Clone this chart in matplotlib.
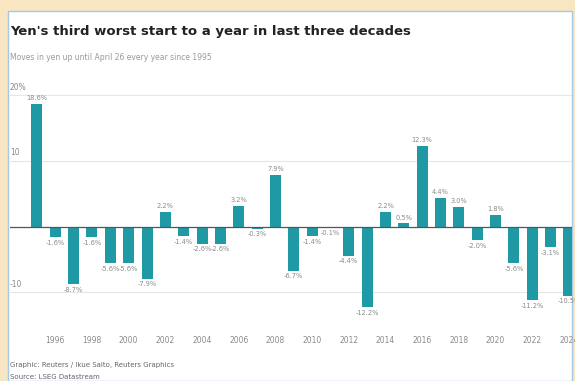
import numpy as np
import matplotlib
matplotlib.use("Agg")
import matplotlib.pyplot as plt
from matplotlib.patches import Rectangle
import matplotlib.transforms as mtransforms

# 年初来の円相場の変化率（%）
years = list(range(1995, 2025))
moves = [18.6, -1.6, -8.7, -1.6, -5.6, -5.6, -7.9, 2.2, -1.4, -2.6,
         -2.6, 3.2, -0.3, 7.9, -6.7, -1.4, -0.1, -4.4, -12.2, 2.2,
         0.5, 12.3, 4.4, 3.0, -2.0, 1.8, -5.6, -11.2, -3.1, -10.5]
tick_years = list(range(1996, 2025, 2))
y_grid = [20, 10, 0, -10]
y_grid_labels = ["20%", "10", "", "-10"]

bar_color = "#1f9aa5"
text_gray = "#8a8a8a"

plt.rcParams['font.family'] = ['DejaVu Sans']

fig = plt.figure(figsize=(5.75, 3.81), dpi=100)
fig.patch.set_facecolor("#f8e6c2")

# 白いパネル
panel = Rectangle((8/575, 0), 564/575, 1 - 11/381, transform=fig.transFigure,
                  facecolor="white", edgecolor="#a8c6e6", linewidth=1.0,
                  zorder=-1)
fig.patches.append(panel)

ax = fig.add_axes([10/575, 1 - 322/381, 562/575, 229/381])
ax.set_facecolor("none")
ax.set_zorder(1)

x = np.array(years)
ax.bar(x, moves, width=0.6, color=bar_color, zorder=3)

# グリッド線
for g in y_grid:
    if g == 0:
        ax.axhline(0, color="#555555", linewidth=0.9, zorder=4)
    else:
        ax.axhline(g, color="#e6e6e6", linewidth=0.8, zorder=1)

trans = mtransforms.blended_transform_factory(ax.transAxes, ax.transData)
for g, lab in zip(y_grid, y_grid_labels):
    if lab:
        ax.text(0.0, g + 0.5, lab, transform=trans, fontsize=5.5,
                color=text_gray, ha="left", va="bottom")

# 値ラベル
for xi, v in zip(x, moves):
    if v >= 0:
        ax.annotate(f"{v:.1f}%", (xi, v), xytext=(0, 2),
                    textcoords="offset points", ha="center", va="bottom",
                    fontsize=4.8, color=text_gray)
    else:
        ax.annotate(f"{v:.1f}%", (xi, v), xytext=(0, -2),
                    textcoords="offset points", ha="center", va="top",
                    fontsize=4.8, color=text_gray)

ax.set_xlim(1995 - 1.47, 2024 + 0.17)
ax.set_ylim(-14.5, 20.3)
ax.set_xticks(tick_years)
ax.set_xticklabels([str(t) for t in tick_years], fontsize=5.5, color=text_gray)
ax.tick_params(axis="x", length=0, pad=10)
ax.set_yticks([])
for s in ax.spines.values():
    s.set_visible(False)

# タイトル
fig.text(10/575, 1 - 31/381, "Yen's third worst start to a year in last three decades",
         fontsize=9.5, fontweight="bold", color="#222222", va="center", ha="left")
fig.text(10/575, 1 - 57/381, "Moves in yen up until April 26 every year since 1995",
         fontsize=5.5, color="#999999", va="center", ha="left")

# 出典
fig.text(10/575, 1 - 365/381, "Graphic: Reuters / Ikue Saito, Reuters Graphics",
         fontsize=5, color="#666666", va="center", ha="left")
fig.text(10/575, 1 - 377/381, "Source: LSEG Datastream",
         fontsize=5, color="#666666", va="center", ha="left")

fig.savefig("out.png", dpi=100, facecolor=fig.get_facecolor())
